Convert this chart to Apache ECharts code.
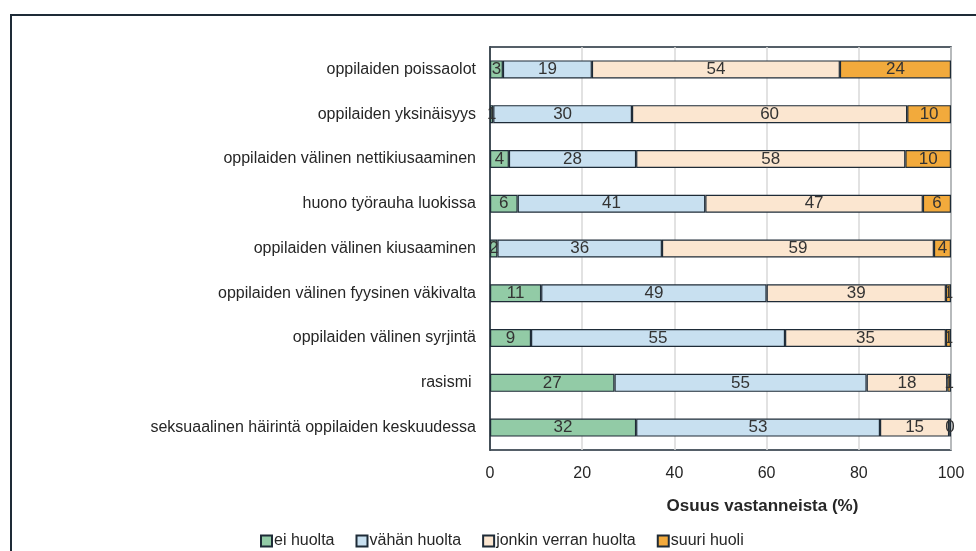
<!DOCTYPE html>
<html lang="fi">

<head>
  <meta charset="UTF-8">
  <title>Huolet</title>
  <script src="https://cdn.jsdelivr.net/npm/echarts@6/dist/echarts.min.js"></script>
  <style>
    body { margin: 0; background: #fff; }
  </style>
</head>

<body>
  <div id="main" style="width: 976px;height:551px;"></div>
  <script>
    // kategoriat ylhäältä alas
    const categories = [
      'oppilaiden poissaolot',
      'oppilaiden yksinäisyys',
      'oppilaiden välinen nettikiusaaminen',
      'huono työrauha luokissa',
      'oppilaiden välinen kiusaaminen',
      'oppilaiden välinen fyysinen väkivalta',
      'oppilaiden välinen syrjintä',
      'rasismi ',
      'seksuaalinen häirintä oppilaiden keskuudessa'
    ];
    const seriesNames = ['ei huolta', 'vähän huolta', 'jonkin verran huolta', 'suuri huoli'];
    const eiHuolta = [2.8, 0.7, 4.1, 6.0, 1.6, 11.1, 8.9, 27.0, 31.7];
    const vahanHuolta = [19.3, 30.1, 27.6, 40.7, 35.7, 48.9, 55.1, 54.7, 52.9];
    const jonkinVerran = [53.8, 59.7, 58.4, 47.2, 59.0, 38.9, 34.9, 17.5, 15.0];
    const suuriHuoli = [24.1, 9.5, 9.9, 6.1, 3.7, 1.1, 1.1, 0.8, 0.4];
    const xTicks = [0, 20, 40, 60, 80, 100];

    const colors = ['#92cba6', '#c8e0f0', '#fbe6d0', '#f2aa3c'];
    const values = [eiHuolta, vahanHuolta, jonkinVerran, suuriHuoli];
    const font = 'Liberation Sans, Arial, sans-serif';

    var myChart = echarts.init(document.getElementById('main'));

    const option = {
      animation: false,
      textStyle: { fontFamily: font },
      graphic: [{
        type: 'rect',
        shape: { x: 11, y: 15, width: 1000, height: 600 },
        style: { fill: 'none', stroke: '#1e2b37', lineWidth: 2 },
        silent: true
      }],
      legend: {
        bottom: -3,
        left: 255,
        itemWidth: 11,
        itemHeight: 11,
        itemGap: 21,
        icon: 'rect',
        textStyle: { fontSize: 16, color: '#262626', fontFamily: font, padding: [0, 0, 0, -3] },
        data: seriesNames
      },
      grid: {
        left: 490,
        right: 25,
        top: 47,
        bottom: 101,
        show: true,
        borderColor: '#1e2b37',
        borderWidth: 1.5
      },
      xAxis: {
        type: 'value',
        min: 0,
        max: 100,
        interval: 20,
        name: 'Osuus vastanneista (%)',
        nameLocation: 'middle',
        nameGap: 48,
        nameTextStyle: {
          fontSize: 17, fontWeight: 'bold', color: '#262626', fontFamily: font,
          padding: [0, 0, 0, 84]
        },
        axisLine: { show: false },
        axisTick: { show: false },
        axisLabel: {
          fontSize: 16, color: '#262626', margin: 16,
          formatter: v => xTicks.includes(v) ? String(v) : ''
        },
        splitLine: { show: true, lineStyle: { color: '#d9d9d9', width: 1.5 } }
      },
      yAxis: {
        type: 'category',
        inverse: true,
        data: categories,
        axisLine: { show: true, lineStyle: { color: '#1e2b37', width: 1.5 } },
        axisTick: { show: false },
        axisLabel: { fontSize: 16, color: '#262626', margin: 14 }
      },
      series: seriesNames.map((name, i) => ({
        name: name,
        type: 'bar',
        stack: 'all',
        barWidth: 18,
        data: values[i],
        itemStyle: { color: colors[i], borderColor: '#1e2b37', borderWidth: 1.2 },
        label: {
          show: true,
          position: 'inside',
          fontSize: 17,
          color: '#333',
          fontFamily: font,
          formatter: p => String(Math.round(p.value))
        }
      }))
    };

    // piirretään kaavio
    myChart.setOption(option);
  </script>
</body>

</html>
